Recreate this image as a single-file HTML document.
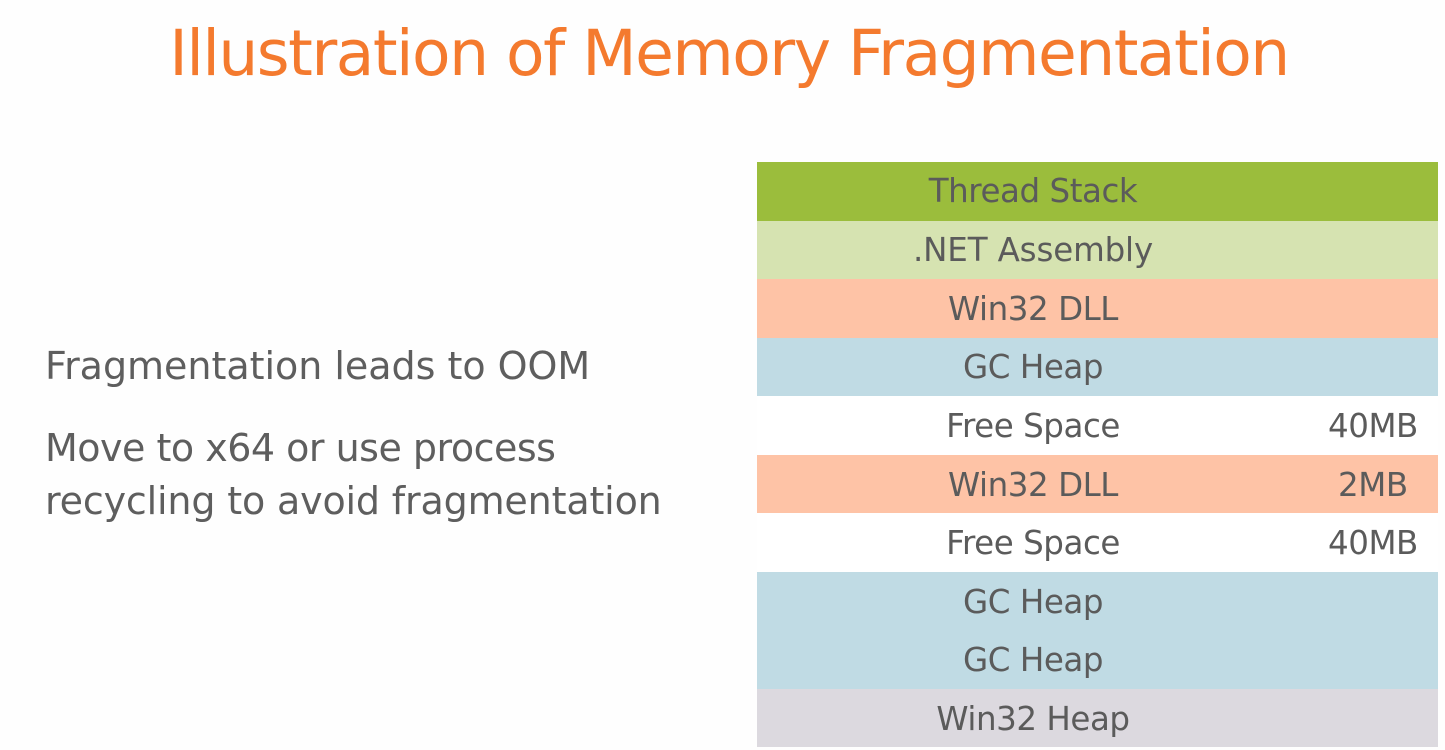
<!DOCTYPE html>
<html>
<head>
<meta charset="utf-8">
<style>
html,body{margin:0;padding:0;background:#fefefe;}
#c{position:relative;width:1445px;height:750px;overflow:hidden;background:#fefefe;font-family:"DejaVu Sans","Liberation Sans",sans-serif;}
.t{position:absolute;white-space:nowrap;}
#title{left:0;top:0;width:1458px;text-align:center;color:#f47a2e;font-size:63px;line-height:107px;font-family:"DejaVu Sans",sans-serif;font-weight:400;letter-spacing:-1.5px;}
.l{left:45px;color:#5e5e5e;font-size:38px;line-height:52px;letter-spacing:-0.1px;}
.r{position:absolute;left:757px;width:681px;height:58.6px;}
.c{position:absolute;left:757px;width:552px;text-align:center;color:#5b5b5b;font-size:32.5px;line-height:58px;white-space:nowrap;letter-spacing:-0.45px;}
.m{position:absolute;color:#5b5b5b;font-size:32.5px;line-height:58px;white-space:nowrap;letter-spacing:-0.45px;}
</style>
</head>
<body>
<div id="c">
<div class="t" id="title">Illustration of Memory Fragmentation</div>
<div class="t l" style="top:340px;letter-spacing:-0.02px">Fragmentation leads to OOM</div>
<div class="t l" style="top:422px;letter-spacing:-0.5px">Move to x64 or use process</div>
<div class="t l" style="top:475px;letter-spacing:-0.16px">recycling to avoid fragmentation</div>

<div class="r" style="top:162px;background:#9bbd3c"></div>
<div class="r" style="top:220.6px;background:#d6e3b1"></div>
<div class="r" style="top:279px;background:#fec3a6"></div>
<div class="r" style="top:337.6px;background:#c0dbe4"></div>
<div class="r" style="top:396px;background:#ffffff"></div>
<div class="r" style="top:454.6px;background:#fec3a6"></div>
<div class="r" style="top:513px;background:#ffffff"></div>
<div class="r" style="top:571.6px;height:117px;background:#c0dbe4"></div>
<div class="r" style="top:688.6px;background:#dcd9df"></div>

<div class="c" style="top:162px">Thread Stack</div>
<div class="c" style="top:221px;letter-spacing:-0.15px">.NET Assembly</div>
<div class="c" style="top:280px">Win32 DLL</div>
<div class="c" style="top:338px">GC Heap</div>
<div class="c" style="top:397px">Free Space</div>
<div class="c" style="top:456px">Win32 DLL</div>
<div class="c" style="top:514px">Free Space</div>
<div class="c" style="top:573px">GC Heap</div>
<div class="c" style="top:631px">GC Heap</div>
<div class="c" style="top:690px">Win32 Heap</div>

<div class="m" style="left:1328px;top:397px">40MB</div>
<div class="m" style="left:1338px;top:456px">2MB</div>
<div class="m" style="left:1328px;top:514px">40MB</div>
</div>
</body>
</html>
